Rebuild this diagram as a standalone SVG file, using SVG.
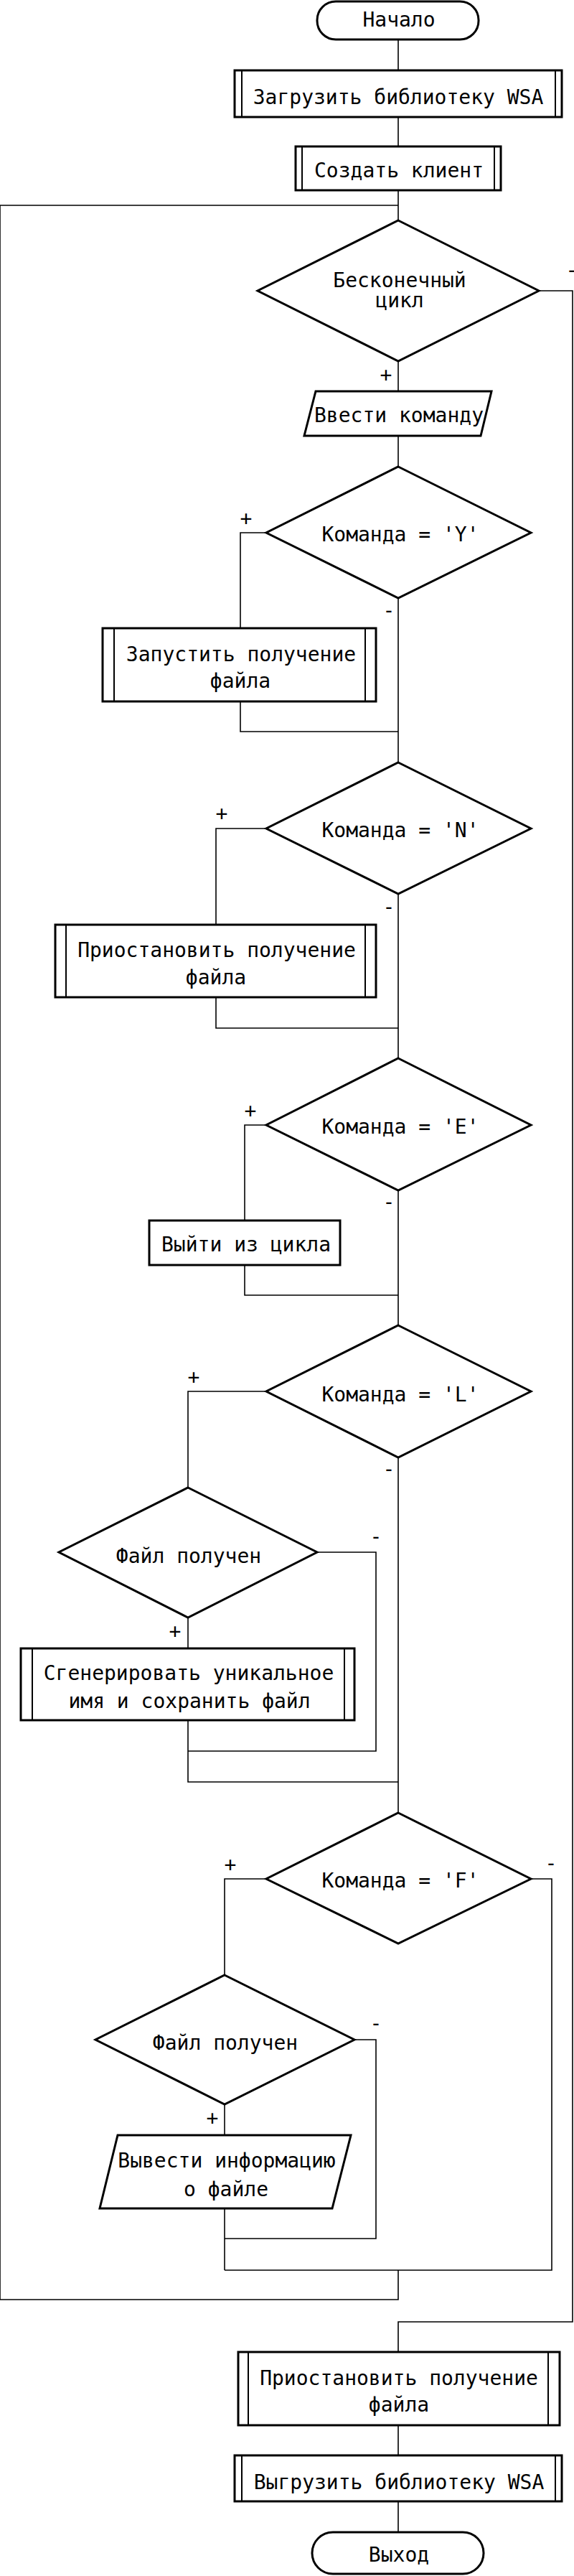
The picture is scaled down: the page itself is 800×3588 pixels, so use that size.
<svg xmlns="http://www.w3.org/2000/svg" width="800" height="3588" viewBox="0 0 800 3588">
<style>
.n{fill:#fff;stroke:#000;stroke-width:3}
.in{stroke:#000;stroke-width:2;fill:none}
.c{fill:none;stroke:#000;stroke-width:1.6}
text{font-family:"DejaVu Sans Mono","Liberation Mono",monospace;font-size:28px;fill:#000}
.t{text-anchor:middle}
.l{text-anchor:middle}
</style>
<rect width="800" height="3588" fill="#fff"/>
<g id="connectors">
<path class="c" d="M555,55V98M555,163V204M555,265V307"/>
<path class="c" d="M555,3162V3203H0V286H555"/>
<path class="c" d="M555,503V545"/>
<path class="c" d="M751,405H798V3234H555V3276"/>
<path class="c" d="M555,607V650"/>
<path class="c" d="M371,742H335V875"/>
<path class="c" d="M555,833V1062"/>
<path class="c" d="M335,977V1019H555"/>
<path class="c" d="M371,1154H301V1288"/>
<path class="c" d="M555,1245V1474"/>
<path class="c" d="M301,1389V1432H555"/>
<path class="c" d="M371,1567H341V1700"/>
<path class="c" d="M555,1658V1846"/>
<path class="c" d="M341,1762V1804H555"/>
<path class="c" d="M371,1938H262V2072"/>
<path class="c" d="M555,2030V2525"/>
<path class="c" d="M262,2253V2296"/>
<path class="c" d="M442,2162H524V2439H262"/>
<path class="c" d="M262,2396V2482H555"/>
<path class="c" d="M371,2617H313V2751"/>
<path class="c" d="M740,2617H769V3162H313"/>
<path class="c" d="M313,2931V2974"/>
<path class="c" d="M494,2841H524V3118H313"/>
<path class="c" d="M313,3076V3162"/>
<path class="c" d="M555,3378V3420M555,3484V3527"/>
<text class="l" x="538" y="532">+</text>
<text class="l" x="797" y="386">-</text>
<text class="l" x="343" y="732">+</text>
<text class="l" x="542" y="860">-</text>
<text class="l" x="309" y="1143">+</text>
<text class="l" x="542" y="1273">-</text>
<text class="l" x="349" y="1557">+</text>
<text class="l" x="542" y="1684">-</text>
<text class="l" x="270" y="1928">+</text>
<text class="l" x="542" y="2056">-</text>
<text class="l" x="524" y="2150">-</text>
<text class="l" x="244" y="2282">+</text>
<text class="l" x="321" y="2607">+</text>
<text class="l" x="768" y="2605">-</text>
<text class="l" x="524" y="2828">-</text>
<text class="l" x="296" y="2960">+</text>
</g>
<g id="start">
<rect class="n" x="442" y="2" width="225" height="53" rx="26" ry="26"/>
<text class="t" x="556" y="37">Начало</text>
</g>
<g id="load_wsa">
<rect class="n" x="327" y="98" width="456" height="65"/>
<path class="in" d="M337,98V163M774,98V163"/>
<text class="t" x="555" y="145">Загрузить библиотеку WSA</text>
</g>
<g id="create_client">
<rect class="n" x="412" y="204" width="286" height="61"/>
<path class="in" d="M421,204V265M689,204V265"/>
<text class="t" x="556" y="247">Создать клиент</text>
</g>
<g id="infinite_loop">
<polygon class="n" points="555,307 751,405 555,503 359,405"/>
<text class="t" x="557" y="400">Бесконечный</text>
<text class="t" x="557" y="428">цикл</text>
</g>
<g id="input_command">
<polygon class="n" points="440,545 685,545 670,607 424,607"/>
<text class="t" x="556" y="588">Ввести команду</text>
</g>
<g id="cmd_y">
<polygon class="n" points="555,650 740,742 555,833 371,742"/>
<text class="t" x="558" y="754">Команда = 'Y'</text>
</g>
<g id="start_receive">
<rect class="n" x="143" y="875" width="381" height="102"/>
<path class="in" d="M159,875V977M509,875V977"/>
<text class="t" x="336" y="921">Запустить получение</text>
<text class="t" x="335" y="958">файла</text>
</g>
<g id="cmd_n">
<polygon class="n" points="555,1062 740,1154 555,1245 371,1154"/>
<text class="t" x="558" y="1166">Команда = 'N'</text>
</g>
<g id="pause_receive">
<rect class="n" x="77" y="1288" width="447" height="101"/>
<path class="in" d="M92,1288V1389M509,1288V1389"/>
<text class="t" x="302" y="1333">Приостановить получение</text>
<text class="t" x="301" y="1371">файла</text>
</g>
<g id="cmd_e">
<polygon class="n" points="555,1474 740,1567 555,1658 371,1567"/>
<text class="t" x="558" y="1579">Команда = 'E'</text>
</g>
<g id="exit_loop">
<rect class="n" x="208" y="1700" width="266" height="62"/>
<text class="t" x="343" y="1743">Выйти из цикла</text>
</g>
<g id="cmd_l">
<polygon class="n" points="555,1846 740,1938 555,2030 371,1938"/>
<text class="t" x="558" y="1952">Команда = 'L'</text>
</g>
<g id="file_received_1">
<polygon class="n" points="262,2072 442,2162 262,2253 82,2162"/>
<text class="t" x="263" y="2177">Файл получен</text>
</g>
<g id="generate_save">
<rect class="n" x="29" y="2296" width="465" height="100"/>
<path class="in" d="M45,2296V2396M480,2296V2396"/>
<text class="t" x="263" y="2340">Сгенерировать уникальное</text>
<text class="t" x="264" y="2379">имя и сохранить файл</text>
</g>
<g id="cmd_f">
<polygon class="n" points="555,2525 740,2617 555,2707 371,2617"/>
<text class="t" x="558" y="2629">Команда = 'F'</text>
</g>
<g id="file_received_2">
<polygon class="n" points="313,2751 494,2841 313,2931 133,2841"/>
<text class="t" x="314" y="2855">Файл получен</text>
</g>
<g id="print_info">
<polygon class="n" points="164,2974 489,2974 463,3076 139,3076"/>
<text class="t" x="316" y="3019">Вывести информацию</text>
<text class="t" x="315" y="3059">о файле</text>
</g>
<g id="pause_receive_final">
<rect class="n" x="332" y="3276" width="448" height="102"/>
<path class="in" d="M346,3276V3378M764,3276V3378"/>
<text class="t" x="556" y="3322">Приостановить получение</text>
<text class="t" x="556" y="3359">файла</text>
</g>
<g id="unload_wsa">
<rect class="n" x="327" y="3420" width="456" height="64"/>
<path class="in" d="M337,3420V3484M774,3420V3484"/>
<text class="t" x="556" y="3467">Выгрузить библиотеку WSA</text>
</g>
<g id="end">
<rect class="n" x="435" y="3527" width="239" height="58" rx="29" ry="29"/>
<text class="t" x="556" y="3568">Выход</text>
</g>
</svg>
